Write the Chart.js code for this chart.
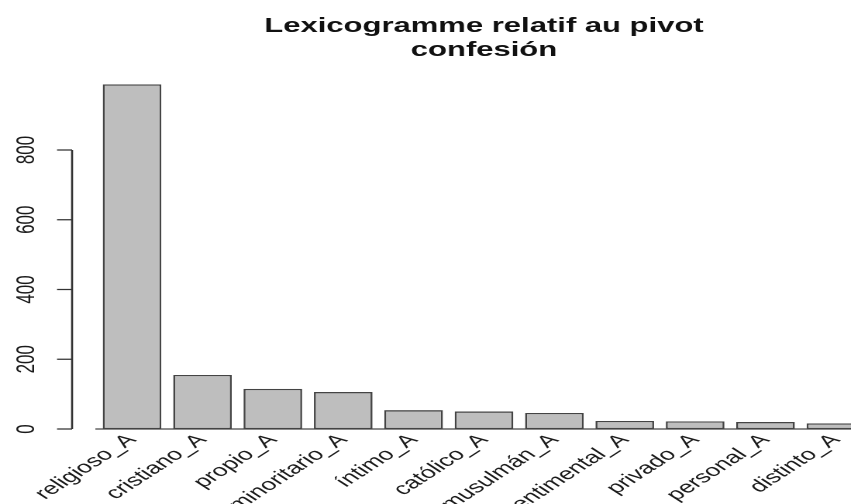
<!DOCTYPE html>
<html>
<head>
<meta charset="utf-8">
<script src="https://cdn.jsdelivr.net/npm/chart.js@4"></script>
<style>
  html, body { margin: 0; padding: 0; background: #fff; overflow: hidden; width: 851px; height: 504px; }
  /* the reference image is stretched sideways, so the chart is drawn narrow and scaled */
  #wrap { width: 581px; height: 504px; transform: scaleX(1.55); transform-origin: 0 0; }
</style>
</head>
<body>
<div id="wrap"><canvas id="lexChart" width="581" height="504"></canvas></div>
<script>
// Data
const categories = ['religioso_A', 'cristiano_A', 'propio_A', 'minoritario_A', 'íntimo_A', 'católico_A',
  'musulmán_A', 'sentimental_A', 'privado_A', 'personal_A', 'distinto_A'];
const frequencies = [988, 155, 115, 106, 54, 50, 46, 23, 22, 20, 16];
const titleLines = ['Lexicogramme relatif au pivot', 'confesión'];
const yTicks = [0, 200, 400, 600, 800];

const fontFamily = "'Liberation Sans', Arial, Helvetica, sans-serif";

// R-style y axis: line and ticks only over the tick range, labels turned 90 degrees
const rAxisPlugin = {
  id: 'rAxis',
  afterDraw(chart) {
    const ctx = chart.ctx;
    const y = chart.scales.y;
    const axisX = 46.5;
    const tickLen = 9.7;

    ctx.save();
    ctx.strokeStyle = '#333';
    ctx.lineWidth = 1.3;
    ctx.beginPath();
    ctx.moveTo(axisX, y.getPixelForValue(yTicks[0]));
    ctx.lineTo(axisX, y.getPixelForValue(yTicks[yTicks.length - 1]));
    yTicks.forEach(v => {
      const py = y.getPixelForValue(v);
      ctx.moveTo(axisX, py);
      ctx.lineTo(axisX - tickLen, py);
    });
    ctx.stroke();

    ctx.fillStyle = '#1a1a1a';
    ctx.font = '17px ' + fontFamily;
    ctx.textAlign = 'center';
    ctx.textBaseline = 'middle';
    yTicks.forEach(v => {
      ctx.save();
      ctx.translate(17.5, y.getPixelForValue(v));
      ctx.rotate(-Math.PI / 2);
      ctx.fillText(String(v), 0, 0);
      ctx.restore();
    });
    ctx.restore();
  }
};

const ctx = document.getElementById('lexChart').getContext('2d');
new Chart(ctx, {
  type: 'bar',
  data: {
    labels: categories,
    datasets: [{
      data: frequencies,
      backgroundColor: '#bebebe',
      borderColor: '#444',
      borderWidth: 1.3,
      borderSkipped: false,
      barPercentage: 0.833,
      categoryPercentage: 1
    }]
  },
  options: {
    responsive: false,
    animation: false,
    devicePixelRatio: 2,
    layout: { padding: { left: 62.5, right: 19, top: 0, bottom: 0 } },
    plugins: {
      legend: { display: false },
      tooltip: { enabled: false },
      title: {
        display: true,
        text: titleLines,
        color: '#111',
        font: { family: fontFamily, size: 20, weight: 'bold', lineHeight: 1.2 },
        padding: { top: 14.6, bottom: 8.9 }
      }
    },
    scales: {
      x: {
        grid: { display: false, drawTicks: false },
        border: { display: true, color: '#8c8c8c', width: 2 },
        ticks: {
          autoSkip: false,
          minRotation: 45,
          maxRotation: 45,
          padding: 1,
          color: '#1a1a1a',
          font: { family: fontFamily, size: 17 }
        },
        afterFit: scale => { scale.height = 75; }
      },
      y: {
        display: false,
        min: 0,
        max: 1025
      }
    }
  },
  plugins: [rAxisPlugin]
});
</script>
</body>
</html>
